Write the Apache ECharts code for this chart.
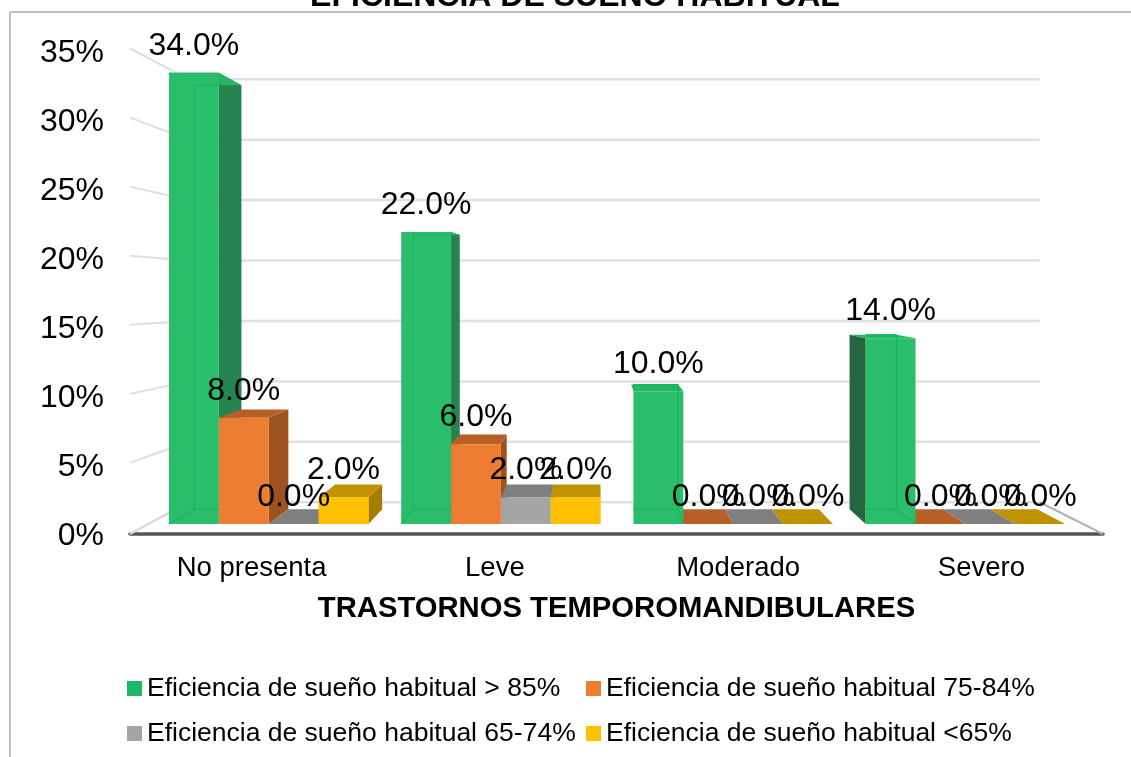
<!DOCTYPE html>
<html>
<head>
<meta charset="utf-8">
<title>Eficiencia de sueño habitual</title>
<script src="https://cdn.jsdelivr.net/npm/echarts@6/dist/echarts.min.js"></script>
<style>
  html, body { margin: 0; padding: 0; background: #fff; }
  #charts { width: 1131px; height: 757px; }
</style>
</head>
<body>
<div id="charts"></div>
<script>
const categories = ['No presenta', 'Leve', 'Moderado', 'Severo']
const seriesNames = [
  'Eficiencia de sueño habitual > 85%',
  'Eficiencia de sueño habitual 75-84%',
  'Eficiencia de sueño habitual 65-74%',
  'Eficiencia de sueño habitual <65%'
]
const over85 = [34, 22, 10, 14]
const from75to84 = [8, 6, 0, 0]
const from65to74 = [0, 2, 0, 0]
const under65 = [2, 2, 0, 0]
const yTicks = [0, 5, 10, 15, 20, 25, 30, 35]

const fontName = '"Liberation Sans", Arial, sans-serif'

// colores de cada serie: frente, tapa, lado derecho, lado izquierdo
const faces = [
  { front: '#2ABD6C', top: '#22B765', right: '#26834F', left: '#25663F', edge: '#14B65C' },
  { front: '#ED7D31', top: '#B85F27', right: '#9E5220', left: '#9E5220' },
  { front: '#A5A5A5', top: '#7F7F7F', right: '#7F7F7F', left: '#7F7F7F' },
  { front: '#FFC000', top: '#C09200', right: '#A67C00', left: '#A67C00' }
]

// perspectiva: todo converge a este punto
const vp = [597, 280]
const barFront = 0.9605
const barBack = 0.903
const wall = 0.875

function project(p, s) {
  return [vp[0] + (p[0] - vp[0]) * s, vp[1] + (p[1] - vp[1]) * s]
}

function poly(points, color, z2) {
  return { type: 'polygon', shape: { points: points }, style: { fill: color }, z2: z2 || 0 }
}

function seg(a, b, color, width, z2) {
  return {
    type: 'line',
    shape: { x1: a[0], y1: a[1], x2: b[0], y2: b[1] },
    style: { stroke: color, lineWidth: width },
    z2: z2 || 0
  }
}

function renderBar(params, api) {
  // la serie 0 es la de las paredes
  const i = params.seriesIndex - 1
  const c = faces[i]
  const band = api.size([1, 0])[0]
  const w = band * 0.2135
  const center = api.coord([api.value(0), api.value(1)])
  const base = api.coord([api.value(0), 0])
  const cx = vp[0] + (center[0] - vp[0]) * 0.994
  const x0 = cx + (i - 2) * w + 1.5
  const x1 = x0 + w

  const fBL = project([x0, base[1]], barFront)
  const fBR = project([x1, base[1]], barFront)
  const fTL = project([x0, center[1]], barFront)
  const fTR = project([x1, center[1]], barFront)
  const bBL = project([x0, base[1]], barBack)
  const bBR = project([x1, base[1]], barBack)
  const bTL = project([x0, center[1]], barBack)
  const bTR = project([x1, center[1]], barBack)

  // el frente verde queda encima de las tapas planas de las series en cero
  const frontZ = c.edge ? 1 : 0

  const children = []
  if (bTR[0] > fTR[0]) children.push(poly([fTR, bTR, bBR, fBR], c.right))
  if (bTL[0] < fTL[0] - 4) children.push(poly([fTL, bTL, bBL, fBL], c.left))
  children.push(poly([fTL, fTR, bTR, bTL], c.top))
  if (api.value(1) > 0) children.push(poly([fTL, fTR, fBR, fBL], c.front, frontZ))

  // las barras verdes son translucidas: se ven las aristas de atras, solo dentro del frente
  if (c.edge) {
    const inner = x => Math.min(Math.max(x, fBL[0]), fBR[0])
    children.push(seg([inner(bBL[0]), bBL[1]], [inner(bBR[0]), bBR[1]], c.edge, 1.2, 1))
    children.push(seg([inner(bTL[0]), bTL[1]], [inner(bTR[0]), bTR[1]], c.edge, 1.2, 1))
    if (bTL[0] > fTL[0]) {
      children.push(seg(bTL, bBL, c.edge, 1.2, 1))
      children.push(seg(bBL, fBL, c.edge, 1.2, 1))
    }
    if (bTR[0] < fTR[0] - 4) {
      children.push(seg(bTR, bBR, c.edge, 1.2, 1))
      children.push(seg(bBR, fBR, c.edge, 1.2, 1))
    }
  }

  children.push({
    type: 'text',
    z2: 100,
    style: {
      x: (fTL[0] + fTR[0]) / 2,
      y: fTL[1] - 27,
      text: api.value(1).toFixed(1) + '%',
      fill: '#000',
      font: '32px ' + fontName,
      align: 'center',
      verticalAlign: 'middle'
    }
  })
  return { type: 'group', children: children }
}

function renderWall(params, api) {
  const coord = api.coord([0, api.value(0)])
  const right = params.coordSys.x + params.coordSys.width
  const left = params.coordSys.x
  const a = project([left, coord[1]], wall)
  const b = project([right, coord[1]], wall)
  const children = [seg(a, b, '#E0E0E0', 2.5)]
  if (api.value(0) > 0) {
    children.push(seg([left, coord[1] - 2], a, '#DEDEDE', 2))
  } else {
    children.push(seg([left, coord[1]], a, '#D8D8D8', 2))
    children.push(seg([right, coord[1]], b, '#B5B5B5', 2.5))
  }
  return { type: 'group', children: children }
}

const values = [over85, from75to84, from65to74, under65]
const barSeries = seriesNames.map((name, i) => ({
  name: name,
  type: 'custom',
  renderItem: renderBar,
  itemStyle: { color: i === 0 ? '#1DB964' : faces[i].front },
  encode: { x: 0, y: 1 },
  clip: false,
  z: 5,
  data: values[i].map((v, k) => [k, v])
}))

const legendBase = {
  orient: 'vertical',
  top: 675,
  padding: 0,
  itemWidth: 15,
  itemHeight: 15,
  itemGap: 18,
  icon: 'rect',
  textStyle: { fontFamily: fontName, fontSize: 26.5, color: '#000' }
}

let myChart = echarts.init(document.getElementById('charts'))
let option = {
  animation: false,
  backgroundColor: '#fff',
  title: {
    text: 'EFICIENCIA DE SUEÑO HABITUAL',
    left: 570,
    textAlign: 'center',
    top: -24,
    textStyle: { fontFamily: fontName, fontSize: 32, fontWeight: 'bold', color: '#000' }
  },
  legend: [
    Object.assign({}, legendBase, { left: 127, data: [seriesNames[0], seriesNames[2]] }),
    Object.assign({}, legendBase, { left: 586, data: [seriesNames[1], seriesNames[3]] })
  ],
  grid: { left: 130, right: 28, top: 50.5, height: 483.5 },
  xAxis: {
    type: 'category',
    data: categories,
    axisTick: { show: false },
    axisLine: { lineStyle: { color: '#555', width: 3.5 } },
    axisLabel: { fontFamily: fontName, fontSize: 27.5, color: '#000', margin: 20 },
    name: 'TRASTORNOS TEMPOROMANDIBULARES',
    nameLocation: 'middle',
    nameGap: 60,
    nameTextStyle: { fontFamily: fontName, fontSize: 29.25, fontWeight: 'bold', color: '#000' }
  },
  yAxis: {
    type: 'value',
    min: 0,
    max: 35,
    interval: 5,
    axisLine: { show: false },
    axisTick: { show: false },
    splitLine: { show: false },
    axisLabel: {
      color: '#000',
      margin: 26,
      formatter: '{a|{value}%}',
      rich: { a: { fontFamily: fontName, fontSize: 32, color: '#000', padding: [5, 0, 0, 0] } }
    }
  },
  graphic: [
    { type: 'line', shape: { x1: 10, y1: 12, x2: 1131, y2: 12 }, style: { stroke: '#BFBFBF', lineWidth: 2 }, silent: true },
    { type: 'line', shape: { x1: 10, y1: 12, x2: 10, y2: 757 }, style: { stroke: '#BFBFBF', lineWidth: 2 }, silent: true }
  ],
  series: [
    {
      type: 'custom',
      renderItem: renderWall,
      encode: { y: 0 },
      clip: false,
      z: 1,
      silent: true,
      data: yTicks.map(v => [v])
    }
  ].concat(barSeries)
}
myChart.setOption(option)
</script>
</body>
</html>
